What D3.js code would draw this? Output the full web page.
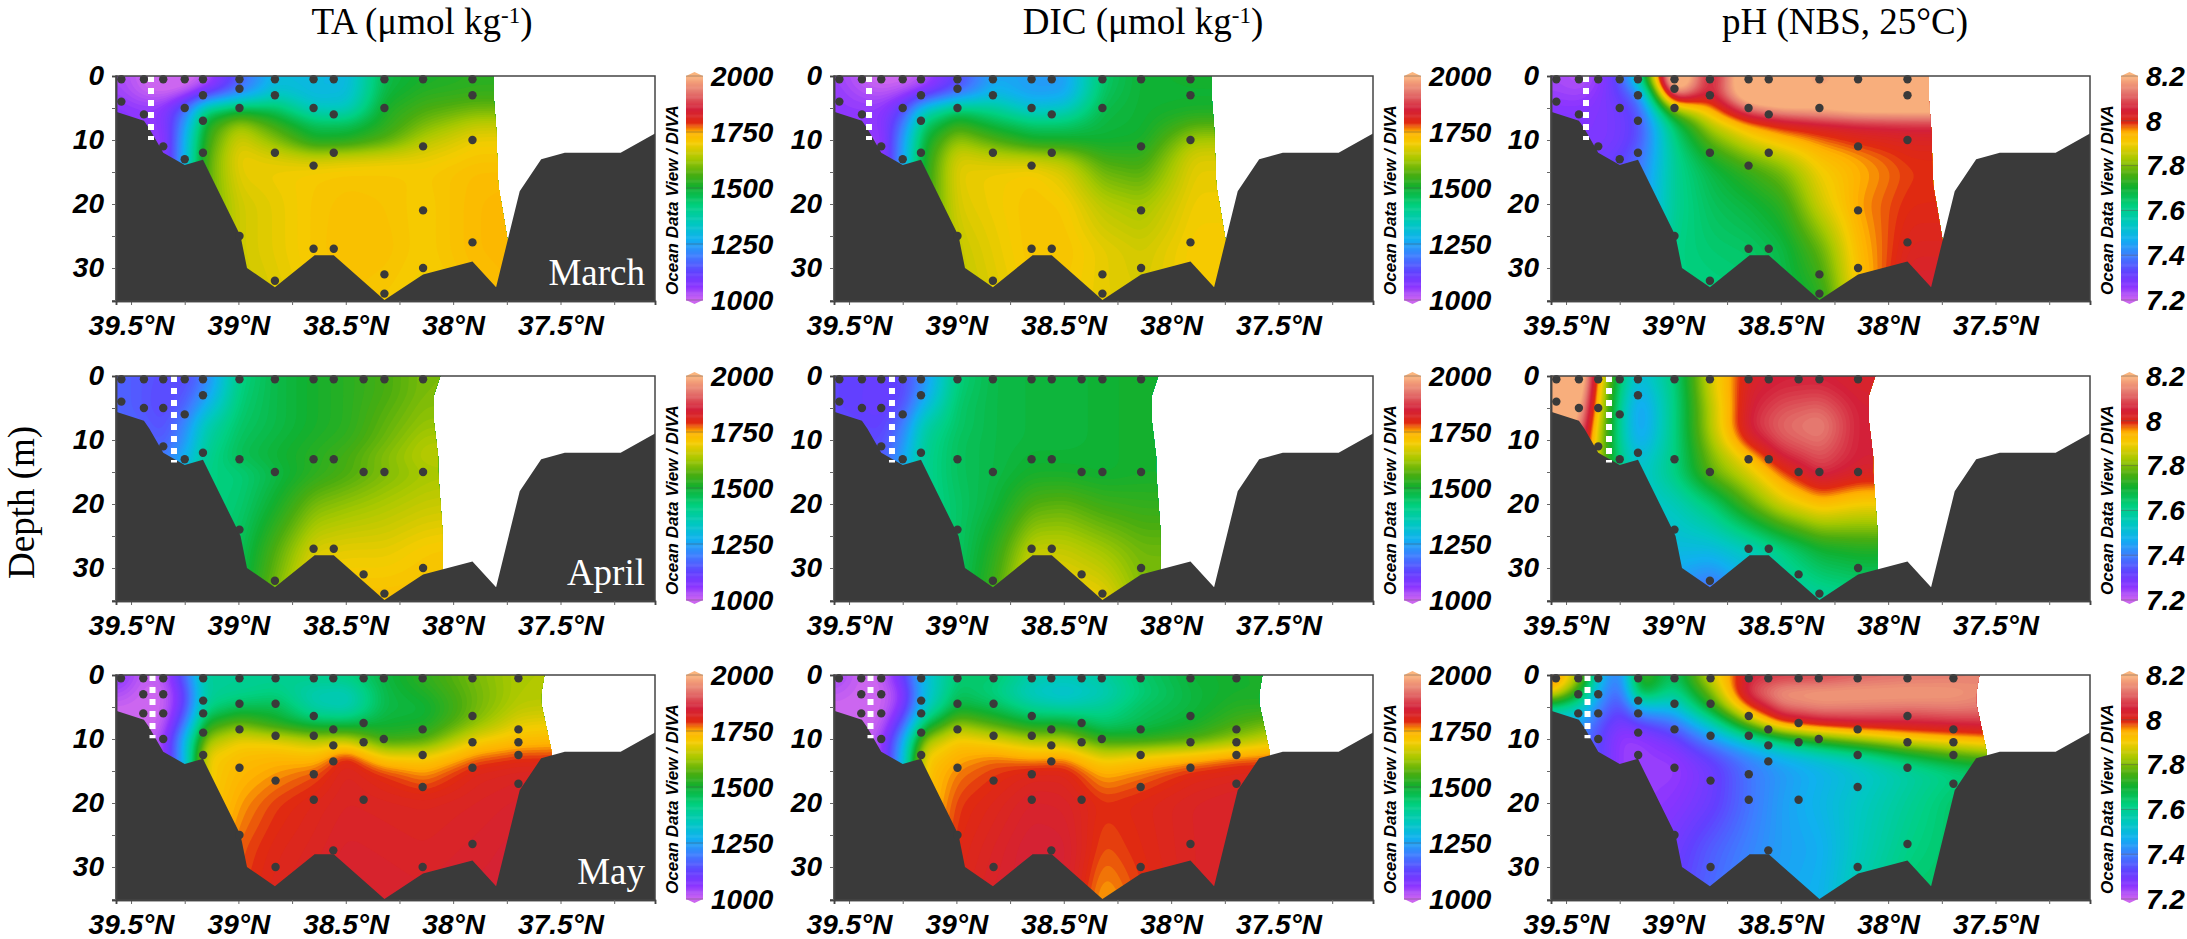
<!DOCTYPE html>
<html>
<head>
<meta charset="UTF-8">
<style>
  body { margin: 0; background: #fff }
  svg { display: block }
  text { fill: #000 }
  .num { font: italic bold 28px "Liberation Sans", Arial, sans-serif }
  .odv { font: italic bold 17px "Liberation Sans", Arial, sans-serif }
  .title { font: 37px "Liberation Serif", "Times New Roman", serif }
  .month { font: 37px "Liberation Serif", "Times New Roman", serif; fill: #fff; text-anchor: end }
  .axis path { stroke: #444; stroke-width: 1.5px }
  .axis line { stroke: #666 }
  .axis text { fill: #000 }
</style>
</head>
<body>
<svg id="chart" width="2187" height="939"></svg>
<script src="https://d3js.org/d3.v7.min.js"></script>
<script>
// grid the fields were read on
const depths = [0, 2.5, 5, 7.5, 10, 12.5, 15, 20, 27, 35];
const latsMarch = [39.57, 39.44, 39.35, 39.25, 39.16, 39.0, 38.83, 38.65, 38.5, 38.32, 38.14, 37.9, 37.7];
const latsApril = [39.57, 39.44, 39.35, 39.25, 39.16, 39.0, 38.83, 38.65, 38.5, 38.32, 38.14, 37.9];
const latsMay = [39.57, 39.44, 39.35, 39.25, 39.16, 39.0, 38.83, 38.65, 38.5, 38.32, 38.14, 37.9, 37.7, 37.5];

const taMarch = [
  [1040,1000,980,980,1010,1150,1300,1300,1290,1480,1510,1530,1530],
  [1050,1010,1000,1020,1080,1200,1330,1290,1300,1490,1530,1540,1540],
  [1070,1060,1070,1180,1420,1490,1460,1340,1340,1520,1560,1590,1590],
  [1070,1060,1060,1250,1520,1640,1550,1470,1470,1530,1600,1660,1660],
  [1070,1070,1040,1290,1540,1680,1610,1510,1520,1570,1650,1700,1700],
  [1070,1070,1040,1300,1560,1700,1680,1660,1670,1680,1690,1715,1715],
  [1070,1070,1040,1300,1570,1690,1700,1710,1715,1715,1710,1730,1730],
  [1070,1070,1040,1300,1570,1670,1690,1715,1725,1720,1705,1735,1745],
  [1070,1070,1040,1300,1570,1670,1690,1715,1730,1725,1705,1735,1745],
  [1070,1070,1040,1300,1570,1660,1680,1705,1720,1710,1695,1720,1735]
];
const dicMarch = [
  [1050,1010,990,990,1020,1120,1260,1250,1240,1450,1500,1510,1510],
  [1060,1030,1020,1040,1070,1170,1290,1240,1250,1460,1500,1500,1500],
  [1060,1060,1060,1130,1330,1450,1400,1320,1340,1480,1500,1510,1510],
  [1060,1060,1060,1200,1450,1550,1490,1450,1450,1490,1500,1570,1570],
  [1060,1060,1040,1250,1490,1630,1570,1510,1510,1500,1510,1640,1640],
  [1060,1060,1040,1260,1510,1680,1660,1650,1630,1550,1540,1680,1680],
  [1060,1060,1040,1270,1520,1690,1700,1710,1680,1590,1570,1690,1690],
  [1060,1060,1040,1270,1530,1680,1700,1720,1710,1650,1630,1700,1700],
  [1060,1060,1040,1270,1530,1660,1690,1720,1720,1690,1670,1710,1710],
  [1060,1060,1040,1270,1530,1650,1680,1710,1710,1690,1680,1710,1710]
];
const phMarch = [
  [7.24,7.22,7.25,7.35,7.62,8.35,8.02,8.3,8.3,8.13,8.3,8.3,8.3],
  [7.25,7.24,7.27,7.33,7.42,8.2,8.05,8.3,8.3,8.22,8.3,8.3,8.3],
  [7.27,7.27,7.28,7.3,7.36,7.82,7.95,8.14,8.2,8.22,8.24,8.24,8.24],
  [7.28,7.28,7.28,7.3,7.34,7.65,7.85,7.95,8.0,8.03,8.05,8.06,8.06],
  [7.28,7.28,7.28,7.3,7.35,7.62,7.78,7.88,7.93,7.97,8.0,8.02,8.02],
  [7.3,7.3,7.3,7.32,7.38,7.6,7.72,7.8,7.85,7.93,7.96,8.0,8.0],
  [7.3,7.3,7.3,7.33,7.4,7.6,7.68,7.74,7.79,7.9,7.95,7.99,8.0],
  [7.3,7.3,7.3,7.35,7.42,7.6,7.66,7.69,7.73,7.87,7.96,8.0,8.0],
  [7.3,7.3,7.3,7.35,7.45,7.62,7.64,7.65,7.68,7.78,7.94,8.02,8.02],
  [7.3,7.3,7.3,7.35,7.45,7.62,7.62,7.63,7.67,7.72,7.92,8.05,8.05]
];

const taApril = [
  [1170,1150,1140,1130,1200,1420,1480,1510,1530,1560,1600,1600],
  [1170,1150,1130,1150,1230,1430,1480,1510,1530,1560,1600,1600],
  [1170,1150,1130,1170,1290,1440,1480,1510,1530,1570,1610,1610],
  [1180,1160,1140,1220,1360,1450,1480,1510,1530,1580,1620,1620],
  [1200,1170,1150,1240,1380,1460,1490,1520,1540,1590,1640,1640],
  [1200,1200,1200,1280,1400,1470,1500,1530,1560,1610,1650,1650],
  [1200,1200,1200,1300,1420,1430,1480,1530,1560,1600,1630,1640],
  [1200,1200,1200,1300,1420,1440,1510,1600,1620,1640,1660,1670],
  [1200,1200,1200,1300,1420,1460,1570,1680,1690,1690,1710,1720],
  [1200,1200,1200,1300,1420,1480,1610,1730,1730,1730,1730,1730]
];
const dicApril = [
  [1130,1120,1120,1130,1220,1430,1480,1490,1490,1500,1510,1510],
  [1130,1120,1110,1130,1240,1440,1480,1490,1490,1500,1510,1510],
  [1130,1120,1110,1150,1300,1450,1480,1490,1490,1500,1510,1510],
  [1140,1130,1120,1200,1370,1450,1480,1490,1490,1500,1510,1510],
  [1150,1140,1130,1230,1390,1460,1480,1490,1490,1500,1510,1510],
  [1150,1150,1150,1260,1400,1460,1480,1500,1500,1500,1510,1510],
  [1150,1150,1150,1280,1400,1460,1480,1510,1510,1500,1510,1510],
  [1150,1150,1150,1280,1400,1450,1490,1570,1580,1550,1540,1540],
  [1150,1150,1150,1280,1400,1450,1530,1660,1660,1630,1590,1590],
  [1150,1150,1150,1280,1400,1460,1560,1720,1720,1700,1610,1610]
];
const phApril = [
  [8.3,8.3,7.95,7.62,7.5,7.63,7.88,8.03,8.05,8.05,8.03,8.03],
  [8.3,8.26,7.92,7.6,7.46,7.62,7.87,8.04,8.07,8.08,8.04,8.04],
  [8.3,8.22,7.9,7.58,7.43,7.62,7.85,8.05,8.1,8.12,8.05,8.05],
  [8.3,8.17,7.87,7.58,7.43,7.62,7.85,8.06,8.12,8.15,8.05,8.05],
  [8.3,8.12,7.85,7.58,7.45,7.62,7.83,8.02,8.1,8.13,8.05,8.05],
  [8.2,8.1,7.85,7.6,7.5,7.62,7.8,7.93,8.05,8.1,8.05,8.05],
  [8.2,8.1,7.85,7.6,7.52,7.62,7.78,7.88,7.98,8.07,8.03,8.03],
  [8.2,8.1,7.85,7.6,7.52,7.55,7.63,7.77,7.87,7.93,7.9,7.9],
  [8.2,8.1,7.85,7.6,7.5,7.5,7.5,7.55,7.62,7.7,7.72,7.72],
  [8.2,8.1,7.85,7.6,7.5,7.42,7.33,7.45,7.55,7.58,7.6,7.6]
];

const taMay = [
  [1080,1010,1020,1180,1400,1400,1400,1420,1430,1490,1540,1600,1640,1640],
  [1040,1000,1000,1120,1390,1400,1420,1360,1350,1480,1520,1590,1640,1640],
  [1000,1000,1000,1130,1410,1470,1480,1370,1350,1480,1490,1590,1650,1660],
  [1000,1000,1010,1200,1520,1590,1520,1470,1470,1500,1510,1610,1690,1700],
  [1000,1000,1040,1300,1620,1700,1690,1650,1660,1540,1560,1700,1730,1740],
  [1000,1000,1040,1300,1700,1730,1740,1730,1810,1700,1700,1770,1790,1790],
  [1000,1000,1040,1300,1700,1740,1760,1780,1820,1790,1760,1810,1820,1820],
  [1000,1000,1040,1300,1700,1760,1790,1810,1825,1820,1815,1825,1835,1835],
  [1000,1000,1040,1300,1720,1780,1805,1820,1835,1830,1825,1835,1845,1845],
  [1000,1000,1040,1300,1750,1790,1815,1830,1845,1840,1835,1845,1845,1845]
];
const dicMay = [
  [1050,1000,1010,1120,1300,1440,1450,1380,1370,1390,1450,1500,1510,1520],
  [1020,1000,1000,1060,1290,1460,1420,1330,1300,1350,1430,1490,1510,1510],
  [1000,1000,1000,1080,1320,1500,1470,1400,1380,1400,1460,1490,1530,1530],
  [1000,1000,1010,1160,1450,1620,1560,1500,1510,1440,1470,1510,1560,1600],
  [1000,1000,1040,1260,1620,1720,1690,1640,1640,1540,1530,1560,1620,1680],
  [1000,1000,1040,1300,1700,1750,1770,1750,1760,1680,1710,1740,1770,1780],
  [1000,1000,1040,1300,1720,1770,1790,1810,1810,1750,1770,1800,1810,1810],
  [1000,1000,1040,1300,1720,1790,1810,1835,1830,1795,1805,1825,1835,1835],
  [1000,1000,1040,1300,1740,1800,1825,1850,1845,1780,1800,1825,1825,1825],
  [1000,1000,1040,1300,1760,1810,1835,1850,1840,1750,1790,1825,1825,1825]
];
const phMay = [
  [8.02,7.85,7.5,7.38,7.78,7.65,7.88,8.05,8.06,8.07,8.1,8.12,8.13,8.15],
  [7.95,7.72,7.45,7.35,7.72,7.6,7.8,8.1,8.18,8.19,8.19,8.19,8.18,8.15],
  [7.6,7.55,7.4,7.32,7.48,7.5,7.72,7.98,8.12,8.15,8.14,8.13,8.14,8.13],
  [7.5,7.45,7.35,7.28,7.32,7.38,7.55,7.8,7.98,8.03,8.05,8.05,8.06,8.07],
  [7.45,7.4,7.33,7.25,7.25,7.3,7.42,7.55,7.65,7.75,7.82,7.9,7.93,7.95],
  [7.45,7.4,7.33,7.25,7.25,7.26,7.33,7.42,7.48,7.53,7.58,7.68,7.75,7.8],
  [7.45,7.4,7.33,7.25,7.25,7.25,7.3,7.39,7.44,7.48,7.52,7.58,7.62,7.65],
  [7.45,7.4,7.33,7.25,7.25,7.27,7.31,7.39,7.45,7.49,7.54,7.6,7.65,7.65],
  [7.45,7.4,7.33,7.25,7.28,7.3,7.36,7.41,7.45,7.47,7.55,7.62,7.65,7.65],
  [7.45,7.4,7.33,7.25,7.3,7.32,7.38,7.43,7.46,7.48,7.57,7.65,7.65,7.65]
];

// sea floor, lat then depth
const floorLat = [39.57,39.44,39.415,39.35,39.25,39.165,38.99,38.96,38.83,38.645,38.556,38.32,38.14,37.91,37.8,37.69,37.59,37.48,37.22,37.06];
const floorDepth = [5.6,7,8.2,12,13.9,13.1,25,30,33,28,28,35,31,29,33,18,13,12,12,9];

// right hand limit of the gridded field for each cruise
const edgeMarch = [[37.81,0],[37.81,3.7],[37.8,8],[37.79,17],[37.75,25],[37.73,30]];
const edgeApril = [[38.06,0],[38.09,3],[38.09,7],[38.07,12.6],[38.07,15],[38.05,24],[38.05,32]];
const edgeMay = [[37.575,0],[37.59,3],[37.59,4.4],[37.54,12.2],[37.54,14]];

// bottle depths per station
const stationsMarch = [
  [39.545,[.5,4]],[39.44,[.5,6]],[39.35,[.5,11]],[39.25,[.5,5,13]],[39.165,[.5,3,7,12]],
  [38.995,[.5,2,5,25]],[38.83,[.5,3,12,32]],[38.65,[.5,5,14,27]],[38.556,[.5,6,12,27]],
  [38.32,[.5,5,31,34]],[38.14,[.5,11,21,30]],[37.91,[.5,3,10,26]]
];
const stationsApril = [
  [39.545,[.5,4]],[39.44,[.5,5]],[39.35,[.5,5,11]],[39.25,[.5,6,13]],[39.165,[.5,3,12]],
  [38.995,[.5,13,24]],[38.83,[.5,15,32]],[38.65,[.5,13,27]],[38.556,[.5,13,27]],
  [38.417,[.5,15,31]],[38.32,[.5,15,34]],[38.14,[.5,15,30]]
];
const stationsMay = [
  [39.547,[.5]],[39.443,[.5,3,6]],[39.35,[.5,3,6,10]],[39.164,[.5,4,6,9,12.5]],
  [38.995,[.5,4.5,8.5,14.5,25]],[38.827,[.5,4.5,9.5,16.5,30]],[38.649,[.5,6.4,9.5,15.5,19.5]],
  [38.558,[.5,8.5,11,13.5,27.4]],[38.417,[.5,7.5,10.5,19.5]],[38.323,[.5,10]],
  [38.142,[.5,8.5,12.5,17.5,30]],[37.91,[.5,6.4,10.5,14.5,26.4]],[37.696,[.5,8.5,10.5,12.5,17]]
];

const latTicks = [39.5, 39, 38.5, 38, 37.5];
const latMinor = [39.25, 38.75, 38.25, 37.75, 37.25];
const depthTicks = [0, 10, 20, 30];
const depthMinor = [5, 15, 25, 35];
const carbonTicks = [1000, 1250, 1500, 1750, 2000];
const phTicks = [7.2, 7.4, 7.6, 7.8, 8, 8.2];
const months = ["March", "April", "May"];

// ODV rainbow, stops as fraction of the colour bar
const cmapStops = [0, .06, .12, .2, .27, .34, .42, .5, .56, .63, .7, .75, .79, .85, .93, 1];
const cmapColors = ["#cc66f0","#8a34ff","#6240ff","#3c80ff","#10b0f0","#00c8c0","#00d080","#10b030","#4aad10","#a8c800","#f5cc00","#ffb000","#e02a10","#d3203a","#e57a70","#fbb57e"];
const cmap = d3.scaleLinear().domain(cmapStops).range(cmapColors).interpolate(d3.interpolateRgb).clamp(true);

const colLeft = [116, 834, 1551];
const rowTop = [76, 376, 675];
const plotW = 539, plotH = 225;

const svg = d3.select("#chart");

const columns = [
  { grids: [taMarch, taApril, taMay], lo: 1000, hi: 2000, ticks: carbonTicks },
  { grids: [dicMarch, dicApril, dicMay], lo: 1000, hi: 2000, ticks: carbonTicks },
  { grids: [phMarch, phApril, phMay], lo: 7.2, hi: 8.2, ticks: phTicks }
];
const rows = [
  { lats: latsMarch, edge: edgeMarch, stations: stationsMarch, dotLat: 39.407, dotEnd: 10 },
  { lats: latsApril, edge: edgeApril, stations: stationsApril, dotLat: 39.30, dotEnd: 13.5 },
  { lats: latsMay, edge: edgeMay, stations: stationsMay, dotLat: 39.40, dotEnd: 9.9 }
];

columns.forEach((col, c) => {
  rows.forEach((row, r) => drawPanel(col, row, c, r));
});

function drawPanel(col, row, c, r) {
  const left = colLeft[c], top = rowTop[r];
  const x = d3.scaleLinear().domain([39.57, 37.06]).range([0, plotW]);
  const y = d3.scaleLinear().domain([0, 35.156]).range([0, plotH]);
  const g = svg.append("g").attr("transform", `translate(${left},${top})`);
  const id = `clip${c}${r}`;

  // area that has data: surface, right edge, then down behind the sea floor
  const lastEdge = row.edge[row.edge.length - 1][0];
  const clipPts = [[39.57, 0]].concat(row.edge, [[lastEdge, 35.156], [39.57, 35.156]]);
  g.append("clipPath").attr("id", id).append("path")
    .attr("d", d3.line().x(d => x(d[0])).y(d => y(d[1]))(clipPts) + "Z");

  // raster of the grid at 2px then smoothed, DIVA looks about like this
  const step = 2;
  const nx = Math.ceil(plotW / step) + 1, ny = Math.ceil(plotH / step) + 1;
  const latIdx = d3.scaleLinear().domain(row.lats).range(d3.range(row.lats.length)).clamp(true);
  const depIdx = d3.scaleLinear().domain(depths).range(d3.range(depths.length)).clamp(true);
  const grid = col.grids[r];
  const vals = new Float64Array(nx * ny);
  for (let j = 0; j < ny; j++) {
    const fy = depIdx(y.invert(j * step));
    const j0 = Math.min(Math.floor(fy), depths.length - 2), ty = fy - j0;
    for (let i = 0; i < nx; i++) {
      const fx = latIdx(x.invert(i * step));
      const i0 = Math.min(Math.floor(fx), row.lats.length - 2), tx = fx - i0;
      vals[j * nx + i] = (grid[j0][i0] * (1 - tx) + grid[j0][i0 + 1] * tx) * (1 - ty)
        + (grid[j0 + 1][i0] * (1 - tx) + grid[j0 + 1][i0 + 1] * tx) * ty;
    }
  }
  d3.blur2({ data: vals, width: nx, height: ny }, 3);

  const value = d3.scaleLinear().domain([col.lo, col.hi]).range([0, 1]);
  const levels = d3.range(0, 1, 0.008).map(t => value.invert(t));
  const contours = d3.contours().size([nx, ny]).thresholds(levels).smooth(true)(vals);
  const field = g.append("g").attr("clip-path", `url(#${id})`);
  field.append("rect").attr("width", plotW).attr("height", plotH).attr("fill", cmap(0));
  field.append("g").attr("transform", `scale(${step})`)
    .selectAll("path").data(contours).join("path")
    .attr("d", d3.geoPath())
    .attr("fill", d => cmap(value(d.value)));

  // sea floor
  const floor = floorLat.map((d, i) => [d, floorDepth[i]]);
  g.append("path")
    .attr("d", d3.area().x(d => x(d[0])).y0(plotH).y1(d => y(d[1]))(floor))
    .attr("fill", "#3a3a3a");

  // stations
  const pts = row.stations.flatMap(s => s[1].map(d => [s[0], d]));
  g.selectAll("circle").data(pts).join("circle")
    .attr("cx", d => x(d[0])).attr("cy", d => y(d[1])).attr("r", 4.2)
    .attr("fill", "#3a3a3a");

  g.append("line")
    .attr("x1", x(row.dotLat)).attr("x2", x(row.dotLat))
    .attr("y1", 0).attr("y2", y(row.dotEnd))
    .attr("stroke", "#fff").attr("stroke-width", 6).attr("stroke-dasharray", "6 6");

  // frame and axes
  g.append("rect").attr("width", plotW).attr("height", plotH)
    .attr("fill", "none").attr("stroke", "#444").attr("stroke-width", 1.5);

  const xAxis = d3.axisBottom(x).tickValues(latTicks).tickFormat(d => d + "°N").tickSize(4).tickPadding(10);
  g.append("g").attr("class", "axis num").attr("transform", `translate(0,${plotH})`).call(xAxis)
    .call(a => a.selectAll("text").attr("class", "num"));
  g.append("g").attr("class", "axis").attr("transform", `translate(0,${plotH})`)
    .call(d3.axisBottom(x).tickValues(latMinor).tickFormat("").tickSize(4));
  const yAxis = d3.axisLeft(y).tickValues(depthTicks).tickSize(4).tickPadding(8);
  g.append("g").attr("class", "axis").call(yAxis)
    .call(a => a.selectAll("text").attr("class", "num"));
  g.append("g").attr("class", "axis")
    .call(d3.axisLeft(y).tickValues(depthMinor).tickFormat("").tickSize(4));

  // colour bar
  const barX = plotW + 31, barW = 17;
  const barY = d3.scaleLinear().domain([col.lo, col.hi]).range([224, 0]);
  const bar = g.append("g").attr("transform", `translate(${barX},0)`);
  bar.selectAll("rect").data(d3.range(0, 1, 0.005)).join("rect")
    .attr("y", t => barY(value.invert(t + 0.005)))
    .attr("width", barW).attr("height", 1.6)
    .attr("fill", t => cmap(t));
  bar.append("path").attr("d", `M0,0L${barW / 2},-4L${barW},0Z`).attr("fill", cmap(1));
  bar.append("path").attr("d", `M0,224L${barW / 2},228L${barW},224Z`).attr("fill", cmap(0));
  bar.selectAll("line").data(col.ticks).join("line")
    .attr("y1", d => barY(d)).attr("y2", d => barY(d))
    .attr("x1", 0).attr("x2", barW).attr("stroke", "#555").attr("stroke-opacity", .45);
  bar.selectAll("text").data(col.ticks).join("text")
    .attr("class", "num").attr("x", barW + 8).attr("y", d => barY(d)).attr("dy", ".35em")
    .text(d => d);

  g.append("text").attr("class", "odv")
    .attr("transform", `translate(${plotW + 23},${plotH - 6}) rotate(-90)`)
    .text("Ocean Data View / DIVA");

  if (c === 0) {
    g.append("text").attr("class", "month")
      .attr("x", plotW - 10).attr("y", plotH - 16).text(months[r]);
  }
}

// column titles, the -1 is raised
const titles = [
  { x: 422, parts: ["TA (μmol kg", "-1", ")"] },
  { x: 1143, parts: ["DIC (μmol kg", "-1", ")"] },
  { x: 1845, parts: ["pH (NBS, 25°C)"] }
];
titles.forEach(t => {
  const txt = svg.append("text").attr("class", "title").attr("x", t.x).attr("y", 34).attr("text-anchor", "middle");
  txt.append("tspan").text(t.parts[0]);
  if (t.parts.length > 1) {
    txt.append("tspan").attr("dy", -11).attr("font-size", 23).text(t.parts[1]);
    txt.append("tspan").attr("dy", 11).text(t.parts[2]);
  }
});

svg.append("text").attr("class", "title")
  .attr("transform", "translate(34,579) rotate(-90)").text("Depth (m)");
</script>
</body>
</html>
